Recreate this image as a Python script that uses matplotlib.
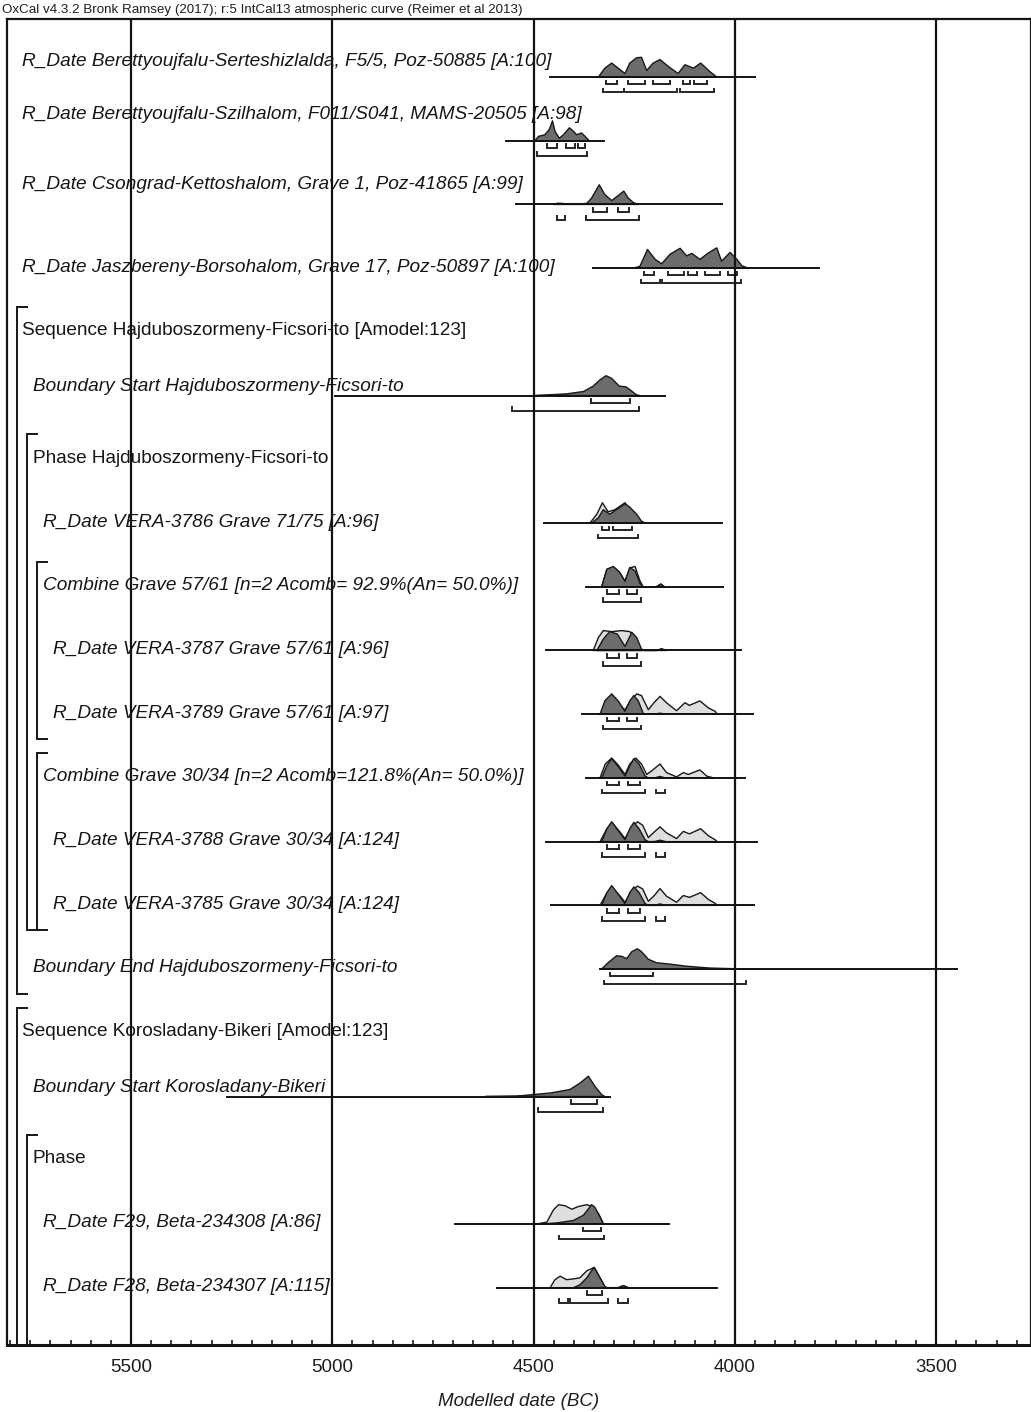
import matplotlib
matplotlib.use("Agg")
import matplotlib.pyplot as plt
from matplotlib.ticker import MultipleLocator, FixedLocator
import numpy as np

plt.rcParams['font.family'] = ['Liberation Sans', 'DejaVu Sans']

# ---------------- data ----------------
row_labels = [
    "R_Date Berettyoujfalu-Serteshizlalda, F5/5, Poz-50885 [A:100]",
    "R_Date Berettyoujfalu-Szilhalom, F011/S041, MAMS-20505 [A:98]",
    "R_Date Csongrad-Kettoshalom, Grave 1, Poz-41865 [A:99]",
    "R_Date Jaszbereny-Borsohalom, Grave 17, Poz-50897 [A:100]",
    "Sequence Hajduboszormeny-Ficsori-to [Amodel:123]",
    "Boundary Start Hajduboszormeny-Ficsori-to",
    "Phase Hajduboszormeny-Ficsori-to",
    "R_Date VERA-3786 Grave 71/75 [A:96]",
    "Combine Grave 57/61 [n=2 Acomb= 92.9%(An= 50.0%)]",
    "R_Date VERA-3787 Grave 57/61 [A:96]",
    "R_Date VERA-3789 Grave 57/61 [A:97]",
    "Combine Grave 30/34 [n=2 Acomb=121.8%(An= 50.0%)]",
    "R_Date VERA-3788 Grave 30/34 [A:124]",
    "R_Date VERA-3785 Grave 30/34 [A:124]",
    "Boundary End Hajduboszormeny-Ficsori-to",
    "Sequence Korosladany-Bikeri [Amodel:123]",
    "Boundary Start Korosladany-Bikeri",
    "Phase",
    "R_Date F29, Beta-234308 [A:86]",
    "R_Date F28, Beta-234307 [A:115]",
]

axis_ticks = [5500, 5000, 4500, 4000, 3500]

# Plotted range (start, end) of each distribution, years BC
serte_range = (4459, 3950)
szil_range = (4569, 4325)
csong_range = (4544, 4032)
jasz_range = (4353, 3791)
bstart_hajdu_range = (4993, 4174)
vera3786_range = (4474, 4032)
comb5761_range = (4370, 4030)
vera3787_range = (4469, 3986)
vera3789_range = (4379, 3956)
comb3034_range = (4370, 3975)
vera3788_range = (4469, 3946)
vera3785_range = (4458, 3953)
bend_hajdu_range = (4335, 3448)
bstart_koros_range = (5262, 4309)
f29_range = (4695, 4164)
f28_range = (4590, 4045)

# Probability densities (relative height, peak = 1)
serte_yr = [4339, 4323, 4306, 4290, 4273, 4261, 4244, 4232, 4219, 4203, 4186, 4165, 4141, 4124, 4103, 4085, 4062, 4045]
serte_post = [0, 0.43, 0.68, 0.43, 0.17, 0.68, 0.94, 0.96, 0.32, 0.68, 0.85, 0.51, 0.17, 0.6, 0.43, 0.68, 0.26, 0]

szil_yr = [4497, 4488, 4472, 4461, 4453, 4447, 4436, 4426, 4411, 4401, 4393, 4381, 4372, 4362]
szil_post = [0, 0.21, 0.29, 0.55, 0.97, 0.46, 0.12, 0.29, 0.63, 0.46, 0.29, 0.38, 0.21, 0]

csong_yr = [4450, 4440, 4428, 4415, 4400, 4385, 4368, 4356, 4337, 4323, 4306, 4290, 4276, 4265, 4252, 4240]
csong_post = [0, 0.06, 0.05, 0.01, 0.04, 0.03, 0.05, 0.31, 0.96, 0.48, 0.19, 0.43, 0.65, 0.31, 0.09, 0]

jasz_yr = [4252, 4236, 4217, 4198, 4182, 4161, 4136, 4120, 4107, 4087, 4066, 4045, 4033, 4012, 3995, 3983, 3967]
jasz_post = [0, 0.09, 0.91, 0.43, 0.21, 0.68, 0.97, 0.6, 0.72, 0.43, 0.74, 0.99, 0.34, 0.77, 0.43, 0.12, 0]

bstart_hajdu_yr = [4501, 4460, 4418, 4376, 4352, 4335, 4320, 4306, 4287, 4271, 4261, 4244, 4236]
bstart_hajdu_post = [0, 0.04, 0.085, 0.2, 0.46, 0.77, 0.97, 0.84, 0.46, 0.43, 0.29, 0.03, 0]

vera3786_like_yr = [4360, 4343, 4329, 4315, 4298, 4273, 4261, 4244, 4228]
vera3786_like = [0, 0.43, 0.99, 0.55, 0.65, 0.99, 0.68, 0.26, 0]
vera3786_post_yr = [4356, 4339, 4327, 4311, 4292, 4273, 4261, 4244, 4232, 4223]
vera3786_post = [0, 0.26, 0.65, 0.43, 0.68, 0.94, 0.77, 0.43, 0.09, 0]

comb5761_yr = [4331, 4318, 4302, 4287, 4273, 4261, 4248, 4236, 4228, 4195, 4184, 4175]
comb5761_like = [0, 0.85, 0.97, 0.72, 0.28, 0.92, 0.99, 0.3, 0, 0, 0.14, 0]
comb5761_post = [0, 0.85, 0.99, 0.72, 0.26, 0.94, 0.77, 0.17, 0, 0, 0.12, 0]

vera3787_like_yr = [4352, 4339, 4327, 4306, 4281, 4261, 4244, 4232]
vera3787_like = [0, 0.63, 0.97, 0.92, 0.97, 0.92, 0.55, 0]
vera3787_post_yr = [4343, 4327, 4311, 4292, 4273, 4256, 4244, 4232, 4226, 4195, 4182, 4170]
vera3787_post = [0, 0.55, 0.92, 0.8, 0.2, 0.89, 0.63, 0.07, 0, 0, 0.09, 0]

vera3789_like_yr = [4335, 4318, 4304, 4285, 4273, 4256, 4244, 4232, 4215, 4201, 4186, 4170, 4145, 4124, 4113, 4087, 4066, 4049, 4044]
vera3789_like = [0, 0.56, 0.82, 0.39, 0.22, 0.73, 0.99, 0.91, 0.22, 0.56, 0.87, 0.56, 0.17, 0.56, 0.43, 0.65, 0.31, 0.14, 0]
vera3789_post_yr = [4335, 4323, 4306, 4290, 4273, 4261, 4251, 4240, 4228, 4223, 4200, 4186, 4172]
vera3789_post = [0, 0.65, 0.99, 0.65, 0.14, 0.65, 0.91, 0.65, 0.05, 0, 0, 0.05, 0]

comb3034_like_yr = [4335, 4322, 4306, 4290, 4273, 4261, 4246, 4232, 4219, 4207, 4186, 4170, 4145, 4128, 4116, 4087, 4070, 4053]
comb3034_like = [0, 0.68, 0.97, 0.63, 0.17, 0.68, 0.97, 0.68, 0.17, 0.34, 0.68, 0.26, 0.05, 0.26, 0.17, 0.39, 0.09, 0]
comb3034_post_yr = [4331, 4318, 4306, 4290, 4273, 4261, 4251, 4238, 4223, 4215, 4200, 4186, 4172]
comb3034_post = [0, 0.6, 0.94, 0.56, 0.09, 0.6, 0.94, 0.68, 0.09, 0, 0, 0.07, 0]

vera3788_like_yr = [4335, 4318, 4304, 4285, 4273, 4256, 4242, 4229, 4215, 4201, 4186, 4170, 4145, 4128, 4113, 4085, 4066, 4049, 4044]
vera3788_like = [0, 0.63, 0.89, 0.46, 0.15, 0.72, 0.97, 0.8, 0.2, 0.46, 0.72, 0.43, 0.15, 0.5, 0.38, 0.63, 0.29, 0.09, 0]
vera3788_post_yr = [4331, 4318, 4306, 4290, 4273, 4261, 4251, 4238, 4223, 4215, 4200, 4186, 4172]
vera3788_post = [0, 0.63, 0.97, 0.55, 0.09, 0.63, 0.94, 0.63, 0.09, 0, 0, 0.07, 0]

vera3785_like_yr = [4335, 4318, 4304, 4285, 4273, 4256, 4242, 4229, 4215, 4201, 4186, 4170, 4145, 4128, 4113, 4085, 4066, 4049, 4044]
vera3785_like = [0, 0.6, 0.85, 0.45, 0.15, 0.72, 0.94, 0.8, 0.2, 0.46, 0.82, 0.45, 0.15, 0.48, 0.39, 0.62, 0.29, 0.1, 0]
vera3785_post_yr = [4331, 4318, 4306, 4290, 4273, 4261, 4251, 4238, 4223, 4215, 4200, 4186, 4172]
vera3785_post = [0, 0.62, 0.96, 0.55, 0.09, 0.62, 0.9, 0.62, 0.09, 0, 0, 0.07, 0]

bend_hajdu_yr = [4331, 4315, 4294, 4281, 4269, 4256, 4242, 4232, 4215, 4195, 4161, 4120, 4062, 4004, 3938]
bend_hajdu_post = [0, 0.31, 0.65, 0.62, 0.51, 0.85, 0.99, 0.85, 0.48, 0.31, 0.24, 0.14, 0.05, 0.02, 0]

bstart_koros_yr = [4620, 4542, 4459, 4410, 4385, 4364, 4348, 4331, 4323]
bstart_koros_post = [0, 0.02, 0.17, 0.34, 0.65, 0.99, 0.51, 0.09, 0]

f29_like_yr = [4492, 4467, 4451, 4438, 4422, 4405, 4389, 4368, 4353, 4339, 4327, 4323]
f29_like = [0, 0.09, 0.68, 0.94, 0.89, 0.72, 0.85, 0.94, 0.85, 0.51, 0.03, 0]
f29_post_yr = [4484, 4443, 4401, 4376, 4356, 4348, 4335, 4327]
f29_post = [0, 0.05, 0.17, 0.43, 0.94, 0.82, 0.34, 0]

f28_like_yr = [4459, 4447, 4434, 4418, 4401, 4385, 4368, 4349, 4335, 4323, 4318, 4290, 4277, 4265]
f28_like = [0, 0.39, 0.56, 0.39, 0.43, 0.48, 0.82, 0.99, 0.48, 0.05, 0, 0, 0.1, 0]
f28_post_yr = [4401, 4385, 4368, 4350, 4335, 4323, 4318, 4290, 4277, 4265]
f28_post = [0, 0.14, 0.48, 0.99, 0.48, 0.05, 0, 0, 0.1, 0]

# Highest posterior density ranges (68.2% and 95.4%)
serte_hpd68 = [(4320, 4292), (4265, 4223), (4204, 4161), (4128, 4111), (4102, 4070)]
serte_hpd95 = [(4328, 4275), (4275, 4145), (4136, 4053)]
szil_hpd68 = [(4466, 4441), (4420, 4397), (4389, 4372)]
szil_hpd95 = [(4492, 4367)]
csong_hpd68 = [(4353, 4318), (4291, 4263)]
csong_hpd95 = [(4441, 4422), (4371, 4238)]
jasz_hpd68 = [(4227, 4201), (4167, 4126), (4116, 4095), (4074, 4037), (4016, 3996)]
jasz_hpd95 = [(4232, 4186), (4180, 3986)]
bstart_hajdu_hpd68 = [(4357, 4261)]
bstart_hajdu_hpd95 = [(4553, 4237)]
vera3786_hpd68 = [(4329, 4312), (4304, 4256)]
vera3786_hpd95 = [(4341, 4240)]
grave5761_hpd68 = [(4318, 4287), (4267, 4244)]
grave5761_hpd95 = [(4327, 4234)]
grave3034_hpd68 = [(4318, 4288), (4265, 4236)]
grave3034_hpd95 = [(4329, 4223), (4197, 4174)]
bend_hajdu_hpd68 = [(4310, 4203)]
bend_hajdu_hpd95 = [(4324, 3973)]
bstart_koros_hpd68 = [(4408, 4342)]
bstart_koros_hpd95 = [(4490, 4327)]
f29_hpd68 = [(4378, 4333)]
f29_hpd95 = [(4436, 4325)]
f28_hpd68 = [(4368, 4329)]
f28_hpd95 = [(4438, 4415), (4410, 4316), (4291, 4265)]

# ---------------- figure ----------------
W, H = 1031, 1412
fig = plt.figure(figsize=(W / 100, H / 100), dpi=100)
AX_L, AX_R, AX_T, AX_B = 7, 1031, 19, 1345
ax = fig.add_axes([AX_L / W, 1 - AX_B / H, (AX_R - AX_L) / W, (AX_B - AX_T) / H])

X_LEFT, X_RIGHT = 5808.0, 3264.5
ax.set_xlim(X_LEFT, X_RIGHT)
ROW_PX = 63.72
FIRST_ROW_PX = 77
ax.set_ylim(1 + (AX_B - FIRST_ROW_PX) / ROW_PX, 1 + (AX_T - FIRST_ROW_PX) / ROW_PX)
YR_PER_PX = (X_LEFT - X_RIGHT) / (AX_R - AX_L)


def vpx(n):
    return n / ROW_PX


def xpx(px):
    return X_LEFT - (px - AX_L) * YR_PER_PX


PEAK = vpx(20.5)
DARK = '#6c6c6c'
LIGHT = '#dedede'
EDGE = '#181818'

rows = {
    1: dict(rng=serte_range, post=(serte_yr, serte_post), h68=serte_hpd68, h95=serte_hpd95),
    2: dict(rng=szil_range, post=(szil_yr, szil_post), h68=szil_hpd68, h95=szil_hpd95),
    3: dict(rng=csong_range, post=(csong_yr, csong_post), h68=csong_hpd68, h95=csong_hpd95),
    4: dict(rng=jasz_range, post=(jasz_yr, jasz_post), h68=jasz_hpd68, h95=jasz_hpd95),
    6: dict(rng=bstart_hajdu_range, post=(bstart_hajdu_yr, bstart_hajdu_post),
            h68=bstart_hajdu_hpd68, h95=bstart_hajdu_hpd95),
    8: dict(rng=vera3786_range, like=(vera3786_like_yr, vera3786_like),
            post=(vera3786_post_yr, vera3786_post), h68=vera3786_hpd68, h95=vera3786_hpd95),
    9: dict(rng=comb5761_range, like=(comb5761_yr, comb5761_like),
            post=(comb5761_yr, comb5761_post), h68=grave5761_hpd68, h95=grave5761_hpd95),
    10: dict(rng=vera3787_range, like=(vera3787_like_yr, vera3787_like),
             post=(vera3787_post_yr, vera3787_post), h68=grave5761_hpd68, h95=grave5761_hpd95),
    11: dict(rng=vera3789_range, like=(vera3789_like_yr, vera3789_like),
             post=(vera3789_post_yr, vera3789_post), h68=grave5761_hpd68, h95=grave5761_hpd95),
    12: dict(rng=comb3034_range, like=(comb3034_like_yr, comb3034_like),
             post=(comb3034_post_yr, comb3034_post), h68=grave3034_hpd68, h95=grave3034_hpd95),
    13: dict(rng=vera3788_range, like=(vera3788_like_yr, vera3788_like),
             post=(vera3788_post_yr, vera3788_post), h68=grave3034_hpd68, h95=grave3034_hpd95),
    14: dict(rng=vera3785_range, like=(vera3785_like_yr, vera3785_like),
             post=(vera3785_post_yr, vera3785_post), h68=grave3034_hpd68, h95=grave3034_hpd95),
    15: dict(rng=bend_hajdu_range, post=(bend_hajdu_yr, bend_hajdu_post),
             h68=bend_hajdu_hpd68, h95=bend_hajdu_hpd95),
    17: dict(rng=bstart_koros_range, post=(bstart_koros_yr, bstart_koros_post),
             h68=bstart_koros_hpd68, h95=bstart_koros_hpd95),
    19: dict(rng=f29_range, like=(f29_like_yr, f29_like), post=(f29_post_yr, f29_post),
             h68=f29_hpd68, h95=f29_hpd95),
    20: dict(rng=f28_range, like=(f28_like_yr, f28_like), post=(f28_post_yr, f28_post),
             h68=f28_hpd68, h95=f28_hpd95),
}


def draw_density(y0, yrs, dens, face):
    yrs = np.asarray(yrs, float)
    dens = np.asarray(dens, float)
    ax.fill(yrs, y0 - dens * PEAK, facecolor=face, edgecolor=EDGE, lw=1.0,
            joinstyle='round', zorder=2)


def draw_hpd(y0, ranges, offset_px):
    yb = y0 + vpx(offset_px)
    tick = vpx(3.5)
    for a, b in ranges:
        ax.plot([a, a, b, b], [yb - tick, yb, yb, yb - tick], color='#262626',
                lw=1.4, solid_joinstyle='miter', zorder=2)


for r, spec in rows.items():
    if 'like' in spec:
        draw_density(r, *spec['like'], LIGHT)
    draw_density(r, *spec['post'], DARK)
    ax.plot(spec['rng'], [r, r], color='#121212', lw=1.4, zorder=2.5)
    draw_hpd(r, spec['h68'], 7.2)
    draw_hpd(r, spec['h95'], 15.2)

# Row labels
label_x_px = [22, 22, 22, 22, 22, 33, 33, 43, 43, 53, 53, 43, 53, 53, 33, 22, 33, 33, 43, 43]
label_base_px = [66, 119, 189, 272, 335, 391, 463, 527, 590, 654, 718, 781, 845, 909, 972, 1036, 1092, 1163, 1227, 1291]
for i, text in enumerate(row_labels):
    style = 'normal' if text.startswith(('Sequence', 'Phase')) else 'italic'
    ax.text(xpx(label_x_px[i]), 1 + (label_base_px[i] - FIRST_ROW_PX) / ROW_PX, text,
            fontsize=13.7, fontstyle=style, color='#161616', ha='left', va='baseline', zorder=3)

# Model structure brackets: (indent level, first row, last row, closed at the bottom)
brackets = [(1, 5, 15, True), (2, 7, 14, True), (3, 9, 11, True), (3, 12, 14, True),
            (1, 16, 20, False), (2, 18, 20, False)]
level_px = {1: 17, 2: 27, 3: 37}
for lvl, r0, r1, closed in brackets:
    x0 = xpx(level_px[lvl])
    x1 = xpx(level_px[lvl] + 10)
    top = r0 - vpx(25)
    bot = r1 + vpx(25) if closed else r1 + 2
    xs = [x1, x0, x0] + ([x1] if closed else [])
    ys = [top, top, bot] + ([bot] if closed else [])
    ax.plot(xs, ys, color='#161616', lw=1.4, solid_joinstyle='miter', zorder=3)

# Vertical reference lines at the labelled dates
for t in axis_ticks:
    ax.axvline(t, color='#121212', lw=1.6, zorder=4)

ax.xaxis.set_major_locator(FixedLocator(axis_ticks))
ax.xaxis.set_minor_locator(MultipleLocator(50))
ax.set_xticklabels([str(t) for t in axis_ticks])
ax.tick_params(axis='x', which='both', direction='in', length=3.8, width=1.2,
               color='#1a1a1a', labelsize=13.5, labelcolor='#1e1e1e', pad=10)
ax.tick_params(axis='y', left=False, labelleft=False)
for side, sp in ax.spines.items():
    sp.set_color('#141414')
    sp.set_linewidth(1.6)
ax.spines['bottom'].set_linewidth(2.2)

fig.text(519 / W, 1 - 1402 / H, "Modelled date (BC)", fontsize=13.5, fontstyle='italic',
         color='#1e1e1e', ha='center', va='center')
fig.text(2 / W, 1 - 13 / H,
         "OxCal v4.3.2 Bronk Ramsey (2017); r:5 IntCal13 atmospheric curve (Reimer et al 2013)",
         fontsize=9.6, color='#1e1e1e', ha='left', va='baseline')

fig.savefig("out.png", dpi=100)
